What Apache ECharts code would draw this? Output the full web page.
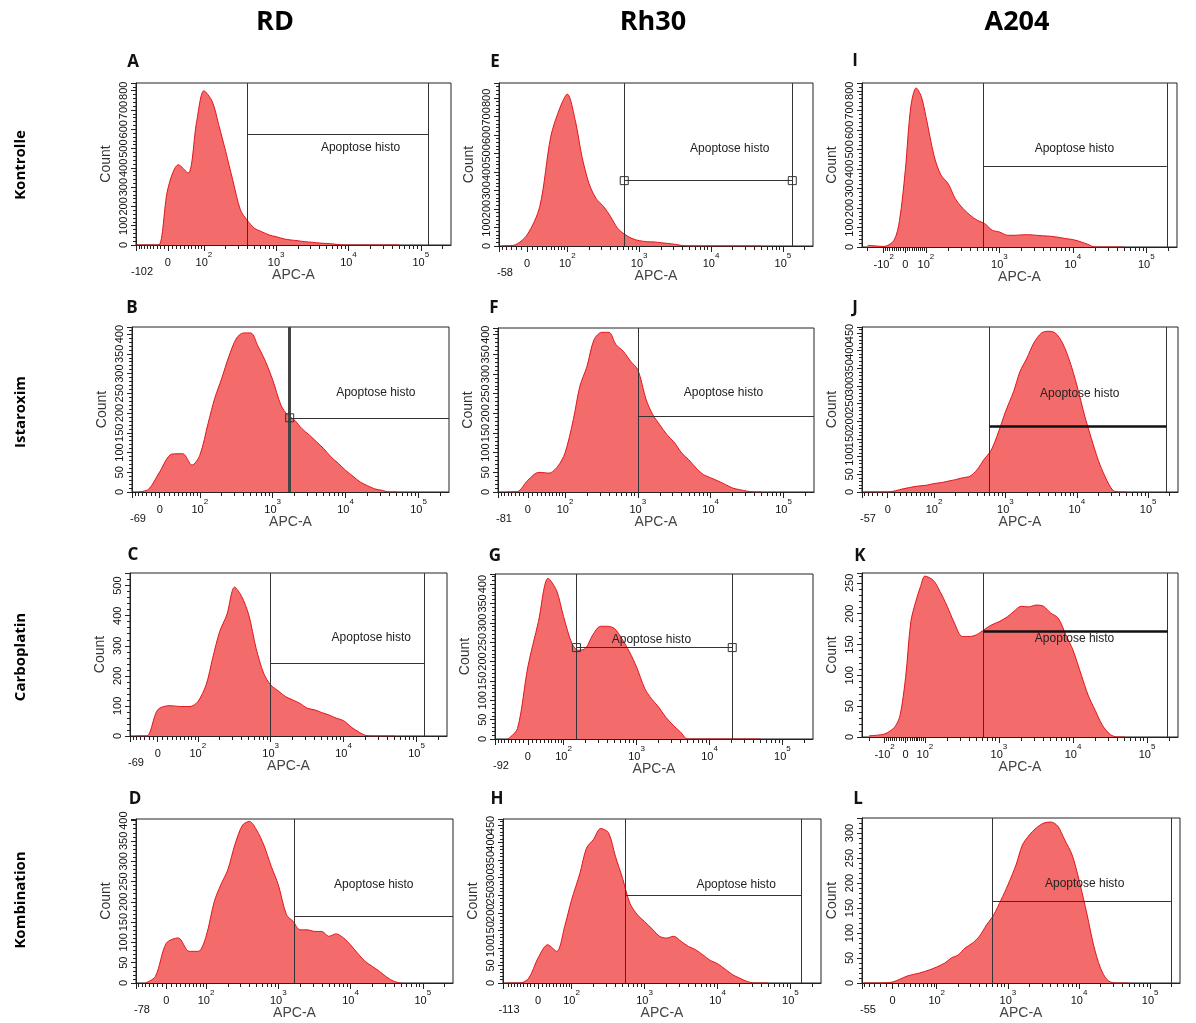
<!DOCTYPE html>
<html><head><meta charset="utf-8">
<script src="https://cdn.jsdelivr.net/npm/echarts@6/dist/echarts.min.js"></script>
<style>html,body{margin:0;padding:0;background:#fff}#c{width:1196px;height:1023px}</style>
</head><body><div id="c"></div>
<script>
// ---------------- DATA ----------------
const cellLines = ['RD', 'Rh30', 'A204'];
const treatments = ['Kontrolle', 'Istaroxim', 'Carboplatin', 'Kombination'];
const panelLetters = ['A','B','C','D','E','F','G','H','I','J','K','L'];
// APC-A sample points (x) shared by all histograms
const APC = [-200,-100,-50,-25,0,25,50,75,100,130,160,200,250,320,400,500,630,800,1000,1300,1600,2000,2500,3200,4000,5000,6300,8000,10000,13000,16000,20000,25000,32000,40000,50000];
const countsA = [0,0,0,0,290,416,373,640,800,745,624,485,338,182,127,87,69,52,43,31,26,22,17,14,10,8,5,0,0,0,0,0,0,0,0,0];
const countsB = [0,0,0,7,51,96,97,68,93,174,237,288,343,390,403,403,369,330,284,220,195,182,161,144,127,110,89,72,55,38,25,16,8,4,0,0];
const countsC = [0,0,0,0,87,101,98,98,114,170,259,348,403,495,464,403,292,209,170,148,131,120,109,92,87,78,70,59,51,28,14,2,0,0,0,0];
const countsD = [0,0,0,16,98,111,78,78,115,201,242,279,340,389,398,377,340,287,242,168,152,131,131,127,127,115,121,111,94,70,53,41,29,14,4,0];
const countsE = [0,0,0,4,60,213,592,745,820,673,483,339,258,213,159,96,63,40,29,23,22,18,14,9,2,0,0,0,0,0,0,0,0,0,0,0];
const countsF = [0,0,0,1,30,50,48,65,99,184,269,319,387,406,406,375,358,332,311,235,197,171,146,125,99,82,61,44,36,27,19,10,6,2,0,0];
const countsG = [0,0,0,27,186,303,415,384,316,247,229,234,268,291,291,285,259,225,186,130,104,83,57,35,18,0,0,0,0,0,0,0,0,0,0,0];
const countsH = [0,0,0,14,71,109,90,161,237,312,384,409,440,428,360,298,227,194,175,152,133,128,133,118,104,95,80,64,55,38,24,14,5,0,0,0];
const countsI = [9,3,34,137,395,720,815,772,669,463,369,326,249,197,163,137,120,86,77,60,60,62,63,60,57,55,50,43,38,26,14,0,0,0,0,0];
const countsJ = [0,0,0,0,0,9,16,19,24,27,31,35,40,45,63,92,118,170,227,284,341,379,422,450,455,450,422,369,303,213,152,90,43,5,0,0];
const countsK = [2,5,16,35,98,187,220,244,261,254,236,212,185,163,163,166,174,182,187,195,204,212,211,214,212,201,193,166,141,100,68,43,19,4,0,0];
const countsL = [0,0,0,0,2,14,20,26,32,40,50,56,70,80,94,116,136,166,196,236,276,296,310,320,322,314,286,256,206,136,76,30,6,0,0,0];
const allCounts = [countsA,countsB,countsC,countsD,countsE,countsF,countsG,countsH,countsI,countsJ,countsK,countsL];
// axis extents
const xMinLabels = [-102,-69,-69,-78,-58,-81,-92,-113,-246,-57,-260,-55];
const xMaxValue = 262144;
const yMax  = [840,418,542,404,880,417,426,467,840,467,266,330];
const yStep = [100,50,100,50,100,50,50,50,100,50,50,50];
// "Apoptose histo" gates
const gateStart = [400,1710,1000,1650,620,1000,150,540,600,600,620,600];
const gateEnd   = [129000,262144,127000,262144,135000,262144,20500,140000,190000,180000,190000,195000];
const gateLevel = [575,188,242,164,353,192,236,251,415,187,172,164];
const gateLabelX = [14700,26000,24000,21000,18200,15000,1600,18000,10500,11000,10500,12000];
const gateLabelY = [503,252,326,243,528,252,257,279,501,279,160,198];
const gateName = 'Apoptose histo';

// ---------------- LAYOUT / STYLE ----------------
const boxes = [ // left, top, width, height
  [136,83,315,162],[132,327,317,165],[130,573,317,163],[136,819,317,164],
  [499,83,314,163],[498,328,316,164],[495,574,318,165],[503,819,318,164],
  [862,83,315,164],[862,327,316,165],[862,573,316,164],[862,818,318,165]
];
const scales = [ // decades 0->100, decades xmin->0, linear width
  [.50,.44,80],[.55,.38,71],[.55,.38,71],[.55,.42,72],
  [.56,.39,60],[.51,.41,75],[.49,.45,77],[.46,.48,87],
  [.28,.59,140],[.65,.36,50],[.26,.59,140],[.62,.43,50]
];
const squareEnds = [[],[0],[],[],[0,1],[],[0,1],[],[],[],[],[]];
const thickVert = [false,true,false,false,false,false,false,false,false,false,false,false];
const thickHorz = [false,false,false,false,false,false,false,false,false,true,true,false];
const letterPos = [[133,62],[132,308],[133,555],[135,799],[495,62],[494,308],[495,556],[497,799],[855,61],[855,308],[860,556],[858,799]];
const colPos = [[275,22],[653,22],[1017,22]];
const rowPos = [[21,165],[21,412],[21,657],[21,900]];
const AX = 'Liberation Sans, Arial, sans-serif';
const FILL = '#f36b6b', EDGE = '#e0161c', INK = '#222';

function makeScale(a, neg, c, xmin) {
  const s = v => Math.asinh(v / c);
  return function (x) {
    if (x >= 100) return a + Math.log10(x / 100);
    if (x >= 0) return a * s(x) / s(100);
    return -neg * s(-x) / s(-xmin);
  };
}

const option = {animation:false, backgroundColor:'#fff', grid:[], xAxis:[], yAxis:[], series:[], graphic:[]};
const richX = {
  b:{fontSize:11, lineHeight:17, verticalAlign:'bottom', fontFamily:AX, color:'#111'},
  s:{fontSize:8, lineHeight:17, verticalAlign:'top', fontFamily:AX, color:'#111'},
  lo:{fontSize:11, lineHeight:26, verticalAlign:'bottom', fontFamily:AX, color:'#111', padding:[0,0,0,12]}
};

for (let i = 0; i < 12; i++) {
  const [l,t,w,h] = boxes[i];
  const [a,neg,c] = scales[i];
  const xmin = xMinLabels[i];
  const f = makeScale(a,neg,c,xmin);
  const xMax = f(xMaxValue);
  option.grid.push({left:l, top:t, width:w, height:h, show:true, borderColor:INK, borderWidth:1, backgroundColor:'transparent'});

  const major = [[xmin, '{lo|' + xmin + '}']];
  if (xmin <= -200) major.push([-100, '{b|-10}{s|2}']);
  major.push([0,'{b|0}'],[100,'{b|10}{s|2}'],[1000,'{b|10}{s|3}'],[10000,'{b|10}{s|4}'],[100000,'{b|10}{s|5}']);
  const majorPos = major.map(m => f(m[0]));
  const minor = [];
  for (let v = -90; v <= 90; v += 10) if (v !== 0 && v > xmin) minor.push(v);
  if (-200 > xmin) minor.push(-200);
  for (const k of [100,1000,10000]) for (let m = 2; m <= 9; m++) minor.push(m*k);
  minor.push(200000);
  const fmt = (val) => { let bj = 0, bd = 1e9; majorPos.forEach((p,j) => { const d = Math.abs(p-val); if (d < bd) { bd = d; bj = j; } }); return major[bj][1]; };

  option.xAxis.push({
    gridIndex:i, type:'value', min:-neg, max:xMax, position:'bottom',
    axisLine:{show:true, onZero:false, lineStyle:{color:INK, width:1}},
    axisTick:{show:true, customValues:majorPos, length:6, lineStyle:{color:INK}},
    axisLabel:{show:true, customValues:majorPos, formatter:fmt, margin:6, rich:richX},
    splitLine:{show:false},
    name:'APC-A', nameLocation:'middle', nameGap:23, nameMoveOverlap:false,
    nameTextStyle:{fontFamily:AX, fontSize:14, color:'#444', verticalAlign:'top'}
  });
  option.xAxis.push({
    gridIndex:i, type:'value', min:-neg, max:xMax, position:'bottom',
    axisLine:{show:false, onZero:false},
    axisTick:{show:true, customValues:minor.map(f), length:4, lineStyle:{color:INK}},
    axisLabel:{show:false}, splitLine:{show:false}
  });
  option.yAxis.push({
    gridIndex:i, type:'value', min:0, max:yMax[i], interval:yStep[i],
    axisLine:{show:true, onZero:false, lineStyle:{color:INK}},
    axisTick:{show:true, length:5, lineStyle:{color:INK}},
    minorTick:{show:true, splitNumber:5, length:3, lineStyle:{color:INK}},
    axisLabel:{rotate:90, fontSize:11, fontFamily:AX, color:'#111', margin:7, showMaxLabel:false},
    splitLine:{show:false}, minorSplitLine:{show:false},
    name:'Count', nameLocation:'middle', nameGap:23,
    nameTextStyle:{fontFamily:AX, fontSize:14, color:'#333'}
  });

  const data = [];
  APC.forEach((x,j) => { if (x >= xmin) data.push([f(x), allCounts[i][j]]); });

  const x1 = f(gateStart[i]), x2 = f(gateEnd[i]), lvl = gateLevel[i];
  const thinStyle = {color:'#333', width:1, type:'solid', opacity:1};
  const vStyle = thickVert[i] ? {color:'#444', width:3, type:'solid', opacity:1} : thinStyle;
  const hStyle = thickHorz[i] ? {color:'#111', width:2.5, type:'solid', opacity:1} : thinStyle;
  const mp = [{
    coord:[f(gateLabelX[i]), gateLabelY[i]], symbol:'rect', symbolSize:1,
    itemStyle:{color:'rgba(0,0,0,0)'},
    label:{show:true, position:'inside', formatter:gateName, color:INK, fontSize:12, fontFamily:AX}
  }];
  squareEnds[i].forEach(e => {
    mp.push({coord:[e === 0 ? x1 : x2, lvl], symbol:'rect', symbolSize:8,
      itemStyle:{color:'rgba(0,0,0,0)', borderColor:'#333', borderWidth:1}, label:{show:false}});
  });

  option.series.push({
    type:'line', xAxisIndex:2*i, yAxisIndex:i, data:data,
    smooth:0.3, symbol:'none', clip:true,
    lineStyle:{color:EDGE, width:1}, areaStyle:{color:FILL, opacity:1},
    markLine:{silent:true, symbol:['none','none'], label:{show:false}, lineStyle:thinStyle, animation:false,
      data:[
        {xAxis:x1, lineStyle:vStyle},
        {xAxis:x2, lineStyle:thinStyle},
        [{coord:[x1,lvl], lineStyle:hStyle},{coord:[x2,lvl]}]
      ]},
    markPoint:{silent:true, animation:false, data:mp}
  });

  option.graphic.push({type:'text', x:letterPos[i][0], y:letterPos[i][1],
    style:{text:panelLetters[i], font:'bold 17px "Open Sans", sans-serif', fill:'#111', align:'center', verticalAlign:'middle', textAlign:'center', textVerticalAlign:'middle'}});
}
cellLines.forEach((s,k) => option.graphic.push({type:'text', x:colPos[k][0], y:colPos[k][1],
  style:{text:s, font:'bold 27px "Open Sans", sans-serif', fill:'#000', align:'center', verticalAlign:'middle', textAlign:'center', textVerticalAlign:'middle'}}));
treatments.forEach((s,k) => option.graphic.push({type:'text', x:rowPos[k][0], y:rowPos[k][1], rotation:Math.PI/2,
  style:{text:s, font:'bold 15px "Open Sans", sans-serif', fill:'#000', align:'center', verticalAlign:'middle', textAlign:'center', textVerticalAlign:'middle'}}));

const chart = echarts.init(document.getElementById('c'), null, {renderer:'canvas'});
chart.setOption(option);
</script>
</body></html>
